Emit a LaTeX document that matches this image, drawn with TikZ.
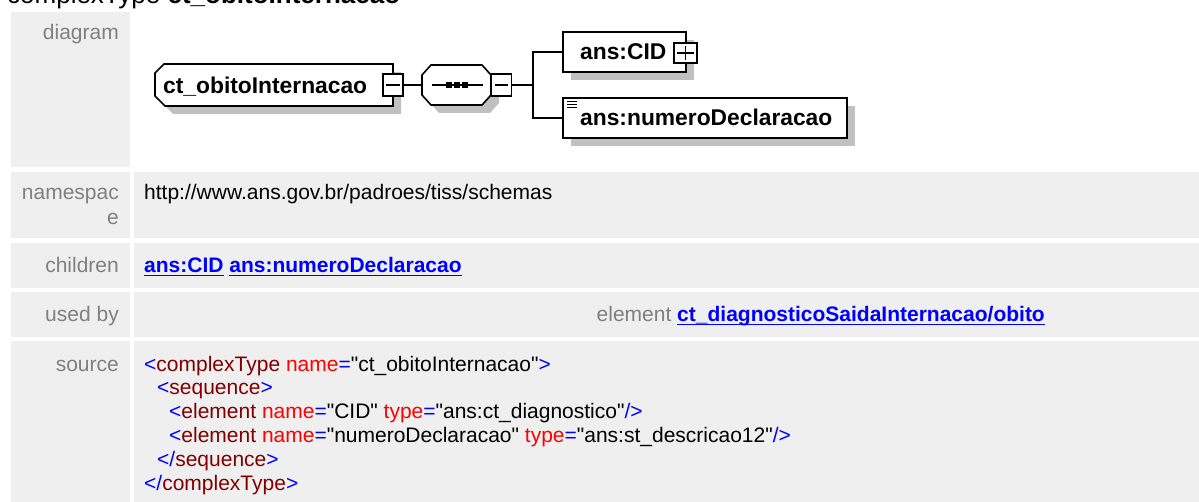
\documentclass[tikz,border=0pt]{standalone}
\usepackage{fontspec}
\setmainfont{Liberation Sans}[Ligatures=TeXOff]
\usetikzlibrary{shadows}
\definecolor{cellgray}{RGB}{239,239,239}
\definecolor{labelgray}{RGB}{128,128,128}
\definecolor{linkblue}{RGB}{0,0,255}
\definecolor{xmlblue}{RGB}{0,0,255}
\definecolor{xmlname}{RGB}{128,0,0}
\definecolor{xmlattr}{RGB}{255,0,0}
\definecolor{shadowgray}{RGB}{192,192,192}
% xml source colours
\newcommand\xt[1]{\textcolor{xmlblue}{#1}}
\newcommand\xn[1]{\textcolor{xmlname}{#1}}
\newcommand\xa[1]{\textcolor{xmlattr}{#1}}
\newcommand\qq{\symbol{34}}
\newcommand\ulink[1]{{\color{linkblue}\bfseries\setbox0\hbox{#1}\rlap{\rule[-3.4pt]{\wd0}{1.3pt}}\box0}}
\begin{document}
\begin{tikzpicture}[x=1pt,y=-1pt,
    rowlabel/.style={anchor=base east,inner sep=0pt,text=labelgray,font=\fontsize{21}{24}\selectfont},
    rowtext/.style={anchor=base west,inner sep=0pt,font=\fontsize{21}{24}\selectfont},
    elshadow/.style={drop shadow={shadow xshift=8pt,shadow yshift=-8pt,fill=shadowgray,opacity=1}},
    elbox/.style={draw,line width=1.6pt,fill=white,rectangle,inner sep=0pt,elshadow},
    octline/.style={draw,line width=1.6pt,fill=white,elshadow},
    eltext/.style={anchor=base west,inner sep=0pt,font=\fontsize{22.8}{26}\selectfont\bfseries},
    togglebox/.style={draw,line width=1.3pt,fill=white,rectangle,inner sep=0pt},
    link/.style={line width=1.3pt}]
    \useasboundingbox (0,0) rectangle (1199,502);

    \node[anchor=base west,inner sep=0pt,font=\fontsize{26}{30}\selectfont] (title) at (7,4) {complexType \textbf{ct\_obitoInternacao}};

    % table cells
    \fill[cellgray] (11,12) rectangle (130,167);
    \foreach \top/\bot in {172/238,243/288,292/337,341/502} {
        \fill[cellgray] (11,\top) rectangle (130,\bot);
        \fill[cellgray] (134,\top) rectangle (1199,\bot);
    }

    \node[rowlabel] (lbldiagram) at (119,40) {diagram};
    \node[rowlabel] (lblns) at (119,200) {namespac};
    \node[rowlabel] (lblnse) at (119,225) {e};
    \node[rowlabel] (lblchildren) at (119,273) {children};
    \node[rowlabel] (lblusedby) at (119,322) {used by};
    \node[rowlabel] (lblsource) at (119,371) {source};

    % diagram
    \draw[octline] (155,73) -- (164,64) -- (393,64) -- (393,106) -- (165,106) -- (155,96) -- cycle;
    \node[eltext] (ctname) at (163,94) {ct\_obitoInternacao};
    \node[togglebox,minimum width=20pt,minimum height=22pt] (ctm) at (393,85) {};
    \draw[link] ([xshift=4pt]ctm.west) -- ([xshift=-4pt]ctm.east);

    \draw[octline] (422,75) -- (431,65) -- (482,65) -- (491,75) -- (491,95) -- (482,105) -- (431,105) -- (422,95) -- cycle;
    \coordinate (seqin) at (422,85);
    \coordinate (seqout) at (491,85);
    \draw[link] (432,85) -- (483,85);
    \foreach \dx in {449,457,465}
        \fill (\dx-3,82) rectangle (\dx+3,88);
    \node[togglebox,minimum width=20pt,minimum height=22pt,anchor=west] (seqm) at (seqout) {};
    \draw[link] ([xshift=4pt]seqm.west) -- ([xshift=-4pt]seqm.east);
    \draw[link] (ctm.east) -- (seqin);

    \node[elbox,minimum width=123pt,minimum height=40pt] (cid) at (624.5,52) {};
    \node[eltext] (cidname) at (580,60) {ans:CID};
    \node[togglebox,minimum width=23pt,minimum height=20pt] (cidp) at (685.5,53) {};
    \draw[link] ([xshift=4pt]cidp.west) -- ([xshift=-4pt]cidp.east);
    \draw[link] ([yshift=-4pt]cidp.north) -- ([yshift=4pt]cidp.south);

    \node[elbox,minimum width=284pt,minimum height=40pt] (num) at (705,118) {};
    \foreach \yy in {101,104,107}
        \draw[line width=0.9pt] (567,\yy) -- (577,\yy);
    \node[eltext] (numname) at (580,126) {ans:numeroDeclaracao};

    \coordinate (fork) at (533,85);
    \draw[link] (seqm.east) -- (fork);
    \draw[link] (cid.west) -| (fork) |- (num.west);

    % namespace, children, used by
    \node[rowtext] (nsuri) at (144,200) {http://www.ans.gov.br/padroes/tiss/schemas};
    \node[rowtext] (childlinks) at (144,273) {\ulink{ans:CID} \ulink{ans:numeroDeclaracao}};
    \node[rowtext,anchor=base east] (usedby) at (1045,322) {\textcolor{labelgray}{element} \ulink{ct\_diagnosticoSaidaInternacao/obito}};

    % source
    \node[rowtext] (src1) at (144,371) {\xt{<}\xn{complexType} \xa{name}\xt{=}\qq ct\_obitoInternacao\qq\xt{>}};
    \node[rowtext] (src2) at (157,395) {\xt{<}\xn{sequence}\xt{>}};
    \node[rowtext] (src3) at (169,418) {\xt{<}\xn{element} \xa{name}\xt{=}\qq CID\qq{} \xa{type}\xt{=}\qq ans:ct\_diagnostico\qq\xt{/>}};
    \node[rowtext] (src4) at (169,442) {\xt{<}\xn{element} \xa{name}\xt{=}\qq numeroDeclaracao\qq{} \xa{type}\xt{=}\qq ans:st\_descricao12\qq\xt{/>}};
    \node[rowtext] (src5) at (157,466) {\xt{</}\xn{sequence}\xt{>}};
    \node[rowtext] (src6) at (144,490) {\xt{</}\xn{complexType}\xt{>}};
\end{tikzpicture}
\end{document}
